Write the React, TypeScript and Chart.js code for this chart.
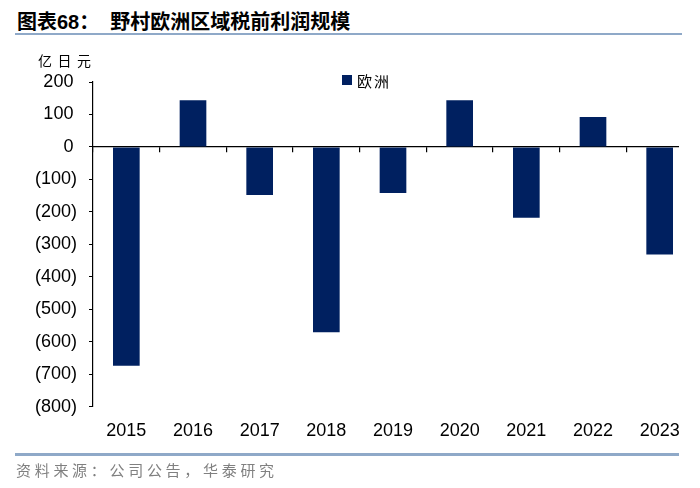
import React, { useEffect, useRef } from "react";
import { Chart, registerables } from "chart.js";

Chart.register(...registerables);

const years = ["2015", "2016", "2017", "2018", "2019", "2020", "2021", "2022", "2023"];
const europeProfit = [-674, 144, -148, -571, -142, 144, -218, 92, -331];
const yMin = -800;
const yMax = 200;
const yStep = 100;

const titleText = "图表68：  野村欧洲区域税前利润规模";
const unitText = "亿日元";
const seriesName = "欧洲";
const sourceText = "资料来源：公司公告，华泰研究";

const navy = "#002060";
const ruleColor = "#8FA9C8";
const latinFont = "'Liberation Sans', Arial, 'Noto Sans CJK SC', sans-serif";

export default function App() {
  const canvasRef = useRef<HTMLCanvasElement | null>(null);

  useEffect(() => {
    if (!canvasRef.current) return;
    const chart = new Chart(canvasRef.current, {
      type: "bar",
      data: {
        labels: years,
        datasets: [
          {
            label: seriesName,
            data: europeProfit,
            backgroundColor: navy,
            borderWidth: 0,
            barPercentage: 0.4,
            categoryPercentage: 1,
            xAxisID: "x",
            yAxisID: "y",
          },
        ],
      },
      options: {
        animation: false,
        responsive: false,
        maintainAspectRatio: false,
        layout: { padding: { top: 82, right: 7, left: 0, bottom: 0 } },
        plugins: {
          legend: { display: false },
          tooltip: { enabled: false },
        },
        scales: {
          x: {
            type: "category",
            position: { y: 0 } as any,
            offset: true,
            grid: {
              display: true,
              drawOnChartArea: false,
              drawTicks: true,
              tickLength: 5,
              color: "#000000",
              lineWidth: 1.2,
              offset: true,
            },
            border: { display: true, color: "#000000", width: 1.3 },
            ticks: { display: false },
          },
          x2: {
            type: "category",
            labels: years,
            position: "bottom",
            offset: true,
            grid: { display: false, drawTicks: false },
            border: { display: false },
            ticks: {
              color: "#000000",
              font: { family: latinFont, size: 18 },
              padding: 14,
              maxRotation: 0,
              autoSkip: false,
            },
            afterFit: (scale: any) => {
              scale.height = 53.3;
            },
          },
          y: {
            type: "linear",
            min: yMin,
            max: yMax,
            ticks: {
              stepSize: yStep,
              color: "#000000",
              font: { family: latinFont, size: 18 },
              padding: 12,
              callback: (v: any) => {
                const n = Number(v);
                return n < 0 ? `(${-n})` : `${n}\u2009`;
              },
            },
            grid: {
              display: true,
              drawOnChartArea: false,
              drawTicks: true,
              tickLength: 4,
              color: "#000000",
              lineWidth: 1,
            },
            border: { display: true, color: "#000000", width: 1.2 },
            afterFit: (scale: any) => {
              scale.width = 93;
            },
          },
        },
      },
    });
    return () => chart.destroy();
  }, []);

  return (
    <div
      style={{
        position: "absolute",
        left: 0,
        top: 0,
        width: 700,
        height: 488,
        background: "#ffffff",
        overflow: "hidden",
      }}
    >
      <div
        style={{
          position: "absolute",
          left: 17,
          top: 8,
          fontFamily: "'Liberation Sans', Arial, 'Noto Sans CJK SC', sans-serif",
          fontWeight: 700,
          fontSize: 20,
          lineHeight: "28px",
          color: "#000000",
          whiteSpace: "pre",
        }}
      >
        {titleText}
      </div>
      <div
        style={{
          position: "absolute",
          left: 15,
          top: 33,
          width: 667,
          height: 1.5,
          background: ruleColor,
        }}
      />
      <div
        style={{
          position: "absolute",
          left: 0,
          top: 0,
          width: 679,
          height: 460,
          overflow: "hidden",
        }}
      >
        <canvas
          ref={canvasRef}
          width={700}
          height={460}
          style={{ width: 700, height: 460, display: "block" }}
        />
      </div>
      <div
        style={{
          position: "absolute",
          left: 38,
          top: 50,
          fontFamily: "'Noto Sans CJK SC', sans-serif",
          fontSize: 14,
          letterSpacing: 5.5,
          lineHeight: "20px",
          color: "#000000",
          whiteSpace: "pre",
        }}
      >
        {unitText}
      </div>
      <div
        style={{
          position: "absolute",
          left: 342,
          top: 75,
          width: 10,
          height: 10,
          background: navy,
        }}
      />
      <div
        style={{
          position: "absolute",
          left: 357,
          top: 70,
          fontFamily: "'Noto Sans CJK SC', sans-serif",
          fontSize: 15,
          letterSpacing: 2,
          lineHeight: "22px",
          color: "#000000",
          whiteSpace: "pre",
        }}
      >
        {seriesName}
      </div>
      <div
        style={{
          position: "absolute",
          left: 15,
          top: 453,
          width: 664,
          height: 2.5,
          background: ruleColor,
        }}
      />
      <div
        style={{
          position: "absolute",
          left: 16,
          top: 459,
          fontFamily: "'Noto Sans CJK SC', sans-serif",
          fontSize: 15,
          letterSpacing: 3.7,
          lineHeight: "22px",
          color: "#808080",
          whiteSpace: "pre",
        }}
      >
        {sourceText}
      </div>
    </div>
  );
}
